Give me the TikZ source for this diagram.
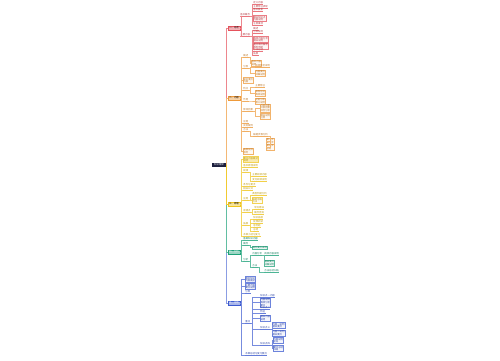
\documentclass[tikz,border=0pt]{standalone}
\usepackage{fontspec}
\newfontfamily\cjk{Noto Sans CJK SC}
\definecolor{cR}{HTML}{E5525C}
\definecolor{cO}{HTML}{EE9A3A}
\definecolor{cY}{HTML}{EFC41A}
\definecolor{cG}{HTML}{1FA27A}
\definecolor{cB}{HTML}{3D5BD0}
\definecolor{cN}{HTML}{1C1F3E}
\newcommand\ft{\cjk\fontsize{2.4}{2.75}\selectfont}
\newcommand\lnk[3]{\draw[cn=#1!70] (#2) -- ++(1.5,0) |- (#3);}
\tikzset{
  base/.style={font=\ft, inner sep=0.4pt, outer sep=0pt},
  rootnode/.style={base, anchor=west, fill=cN, text=white, minimum width=14pt, minimum height=4pt},
  mainnode/.style={base, anchor=west, draw=#1, line width=0.3pt, fill=#1!45, minimum width=12pt, minimum height=3.6pt, text=black},
  lf/.style={base, anchor=south west, text=#1!80!black,
    append after command={(\tikzlastnode.south west) edge[draw=#1!80, line width=0.35pt] (\tikzlastnode.south east)}},
  bx/.style={base, anchor=west, draw=#1!75, line width=0.25pt, fill=#1!6, align=left, text=#1!80!black, inner sep=0.5pt},
  cn/.style={draw=#1, line width=0.3pt},
}
\begin{document}
\begin{tikzpicture}[x=1pt,y=-1pt]
\useasboundingbox (0,0) rectangle (500,360);
\fill[white] (0,0) rectangle (500,360);

% root and main branches
\node[rootnode] (root) at (212,165) {知识框架};
\node[mainnode=cR] (m1) at (228,28) {一、总述};
\node[mainnode=cO] (m2) at (228,98) {二、内容};
\node[mainnode=cY] (m3) at (228,204) {三、原理};
\node[mainnode=cG, text=white] (m4) at (228,252) {四、分析};
\node[mainnode=cB, text=white] (m5) at (228,303) {五、总结};
\draw[cn=cR!70] (root.east) |- (m1.west);
\draw[cn=cO!70] (root.east) |- (m2.west);
\draw[cn=cB!60] (root.east) |- (m5.west);
\draw[cn=cG!70] (root.east) |- (m4.west);
\draw[cn=cY!90] (root.east) |- (m3.west);

% red branch
\node[lf=cR] (rA) at (240,16.5) {基本概念};
\node[lf=cR] (rA1) at (253,4.5) {定义内容};
\node[lf=cR] (rA2) at (253,8) {主要特征表现};
\node[lf=cR] (rA3) at (253,11.5) {基本要素};
\node[bx=cR] (rA4) at (253,18.5) {相关知识点\\内容说明};
\node[lf=cR] (rA5) at (253,25) {注意事项};
\node[lf=cR] (rB) at (240,36) {主要内容};
\node[lf=cR] (rB1) at (253,30) {概述};
\node[lf=cR] (rB2) at (253,33.5) {分类说明};
\node[bx=cR] (rB3) at (253,39.5) {具体内容分析\\相关说明};
\node[bx=cR] (rB4) at (253,46) {重点难点解析\\典型例题};
\node[lf=cR] (rB5) at (253,51.5) {方法总结};
\node[lf=cR] (rB6) at (253,55) {拓展};
\lnk{cR}{m1.east}{rA.south west}
\lnk{cR}{m1.east}{rB.south west}
\lnk{cR}{rA.south east}{rA1.south west}
\lnk{cR}{rA.south east}{rA2.south west}
\lnk{cR}{rA.south east}{rA3.south west}
\lnk{cR}{rA.south east}{rA4.west}
\lnk{cR}{rA.south east}{rA5.south west}
\lnk{cR}{rB.south east}{rB1.south west}
\lnk{cR}{rB.south east}{rB2.south west}
\lnk{cR}{rB.south east}{rB3.west}
\lnk{cR}{rB.south east}{rB4.west}
\lnk{cR}{rB.south east}{rB5.south west}
\lnk{cR}{rB.south east}{rB6.south west}

% orange branch
\node[lf=cO] (o1) at (243,57.5) {概述};
\node[bx=cO] (o1a) at (251,63) {基本内容\\说明};
\node[lf=cO] (o2) at (243,68) {分类};
\node[lf=cO] (o2a) at (255,67.5) {具体类型说明};
\node[bx=cO] (o2b) at (255,73) {内容要点\\详细说明};
\node[bx=cO] (o3) at (243,80.5) {知识要点\\内容};
\node[lf=cO] (o4) at (243,90) {特点};
\node[lf=cO] (o4a) at (255,87.5) {主要特征};
\node[bx=cO] (o4b) at (255,93) {表现形式\\具体说明};
\node[lf=cO] (o5) at (243,101) {作用};
\node[bx=cO] (o5a) at (255,101) {功能分析\\意义说明};
\node[lf=cO] (o6) at (243,111) {影响因素};
\node[bx=cO] (o6a) at (260,108) {内部因素\\外部因素\\综合分析};
\node[bx=cO] (o6b) at (260,116.5) {相关说明\\注意};
\node[lf=cO] (o7) at (243,123.5) {应用};
\node[lf=cO] (o8) at (243,127.5) {实际案例};
\node[lf=cO] (o9) at (243,131.5) {方法};
\node[lf=cO] (o9a) at (253,136) {解题步骤分析};
\node[bx=cO] (o9b) at (266,141) {第一步\\第二步};
\node[bx=cO] (o9c) at (266,147) {第三步\\总结};
\node[bx=cO] (o10) at (243,151) {拓展延伸\\思考};
\foreach \c in {o1,o2,o4,o5,o6,o7,o8,o9} {\lnk{cO}{m2.east}{\c.south west}}
\lnk{cO}{m2.east}{o3.west}
\lnk{cO}{m2.east}{o10.west}
\lnk{cO}{o1.south east}{o1a.west}
\lnk{cO}{o2.south east}{o2a.south west}
\lnk{cO}{o2.south east}{o2b.west}
\lnk{cO}{o4.south east}{o4a.south west}
\lnk{cO}{o4.south east}{o4b.west}
\lnk{cO}{o5.south east}{o5a.west}
\lnk{cO}{o6.south east}{o6a.west}
\lnk{cO}{o6.south east}{o6b.west}
\lnk{cO}{o9.south east}{o9a.south west}
\lnk{cO}{o9a.south east}{o9b.west}
\lnk{cO}{o9a.south east}{o9c.west}

% yellow branch
\node[bx=cY, fill=cY!35] (y1) at (243,159.5) {重点内容概述\\说明};
\node[lf=cY] (y2) at (243,167.5) {基本原理说明};
\node[lf=cY] (y3) at (243,172.5) {规律};
\node[lf=cY] (y3a) at (252,176) {主要规律内容};
\node[lf=cY] (y3b) at (252,181) {变化规律说明};
\node[lf=cY] (y4) at (243,186) {条件与要求};
\node[lf=cY] (y5) at (243,190.5) {相关公式};
\node[lf=cY] (y6) at (243,200) {应用};
\node[lf=cY] (y6a) at (252,195) {典型例题分析};
\node[bx=cY] (y6b) at (252,200.5) {解题思路\\方法};
\node[lf=cY] (y7) at (243,212) {易错点};
\node[lf=cY] (y7a) at (254,209) {常见错误};
\node[lf=cY] (y7b) at (254,214.5) {概念混淆};
\node[lf=cY] (y8) at (243,225.5) {拓展};
\node[lf=cY] (y8a) at (253,219.5) {知识拓展};
\node[lf=cY] (y8b) at (253,223.5) {延伸阅读};
\node[lf=cY] (y8c) at (253,227.5) {思考题};
\node[lf=cY] (y8d) at (253,231.5) {总结};
\node[lf=cY] (y9) at (243,236) {本章小结与复习};
\lnk{cY}{m3.east}{y1.west}
\foreach \c in {y2,y3,y4,y5,y6,y7,y8,y9} {\lnk{cY}{m3.east}{\c.south west}}
\lnk{cY}{y3.south east}{y3a.south west}
\lnk{cY}{y3.south east}{y3b.south west}
\lnk{cY}{y6.south east}{y6a.south west}
\lnk{cY}{y6.south east}{y6b.west}
\lnk{cY}{y7.south east}{y7a.south west}
\lnk{cY}{y7.south east}{y7b.south west}
\foreach \c in {y8a,y8b,y8c,y8d} {\lnk{cY}{y8.south east}{\c.south west}}

% green branch
\node[lf=cG] (g1) at (243,240.5) {基础知识内容};
\node[lf=cG] (g2) at (243,245) {概念};
\node[bx=cG] (g2a) at (252,247.5) {概念要点说明};
\node[lf=cG] (g3) at (243,261) {分析};
\node[lf=cG] (g3a) at (252,255) {内容分析};
\node[lf=cG] (g3a1) at (264,255) {具体内容说明};
\node[bx=cG] (g3a2) at (264,263) {相关要点\\详细说明};
\node[lf=cG] (g3b) at (252,267) {方法};
\node[lf=cG] (g3b1) at (264,272.5) {方法总结归纳};
\lnk{cG}{m4.east}{g1.south west}
\lnk{cG}{m4.east}{g2.south west}
\lnk{cG}{m4.east}{g3.south west}
\lnk{cG}{g2.south east}{g2a.west}
\lnk{cG}{g3.south east}{g3a.south west}
\lnk{cG}{g3.south east}{g3b.south west}
\lnk{cG}{g3a.south east}{g3a1.south west}
\lnk{cG}{g3a.south east}{g3a2.west}
\lnk{cG}{g3b.south east}{g3b1.south west}

% blue branch
\node[bx=cB] (b1) at (245,279.5) {基本知识\\内容概述};
\node[bx=cB] (b2) at (245,286.5) {主要内容\\要点说明};
\node[lf=cB] (b3) at (245,293.5) {分类};
\node[lf=cB] (b4) at (245,323.5) {重点};
\node[lf=cB] (c1) at (260,297.5) {知识点一内容};
\node[bx=cB] (c2) at (260,302.5) {内容说明\\具体分析\\要点};
\node[lf=cB] (c3) at (260,309.5) {知识点二};
\node[lf=cB] (c4) at (260,313.5) {特征};
\node[bx=cB] (c5) at (260,318) {相关内容\\说明};
\node[lf=cB] (c6) at (260,329) {知识点三};
\node[bx=cB] (c6a) at (272,325.5) {内容一说明\\相关要点};
\node[bx=cB] (c6b) at (272,333) {内容二说明\\相关要点};
\node[lf=cB] (c7) at (260,345) {知识点四};
\node[bx=cB] (c7a) at (273,340.5) {内容说明\\补充};
\node[bx=cB] (c7b) at (273,348.5) {要点总结\\归纳};
\node[lf=cB] (b5) at (245,355.5) {本章总结与复习要点};
\lnk{cB}{m5.east}{b1.west}
\lnk{cB}{m5.east}{b2.west}
\lnk{cB}{m5.east}{b3.south west}
\lnk{cB}{m5.east}{b4.south west}
\lnk{cB}{m5.east}{b5.south west}
\foreach \c in {c1,c3,c4,c6,c7} {\lnk{cB}{b4.south east}{\c.south west}}
\lnk{cB}{b4.south east}{c2.west}
\lnk{cB}{b4.south east}{c5.west}
\lnk{cB}{c6.south east}{c6a.west}
\lnk{cB}{c6.south east}{c6b.west}
\lnk{cB}{c7.south east}{c7a.west}
\lnk{cB}{c7.south east}{c7b.west}
\end{tikzpicture}
\end{document}
